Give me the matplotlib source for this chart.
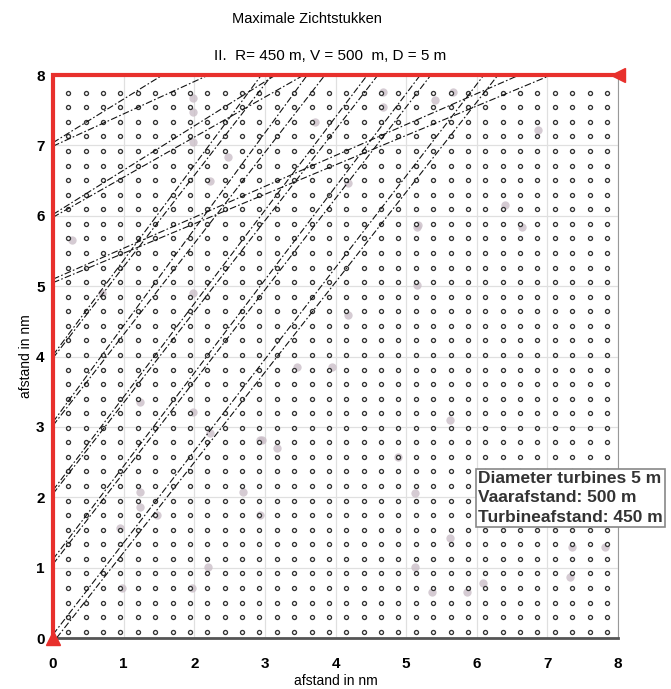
import numpy as np
import matplotlib.pyplot as plt

plt.rcParams['font.family'] = ['Liberation Sans', 'DejaVu Sans']

# turbine lattice (nm): column / row start, spacing and count
col_x0, col_dx, n_cols = 0.217, 0.246, 32
row_y0, row_dy, n_rows = 0.09, 0.207, 38

# faint grey spots seen in the scan
spot_x = [1.98, 1.98, 1.98, 2.48, 2.22, 0.27, 0.69, 1.23, 1.98, 2.22, 1.98,
          1.23, 1.23, 0.95, 0.98, 1.97, 2.20, 2.69, 2.93, 3.17, 2.93, 1.47,
          4.67, 4.67, 3.71, 5.67, 5.41, 6.87, 6.40, 6.64, 5.16, 4.18, 5.17,
          5.16, 4.18, 3.95, 3.46, 5.62, 4.89, 2.96, 5.13, 5.62, 5.13, 5.37,
          5.86, 6.09, 7.35, 7.82, 7.32]
spot_y = [7.67, 7.47, 7.05, 6.83, 6.50, 5.65, 4.91, 3.35, 3.21, 2.91, 4.91,
          2.07, 1.86, 1.56, 0.71, 0.71, 1.01, 2.07, 2.81, 2.70, 1.75, 1.75,
          7.76, 7.54, 7.33, 7.76, 7.64, 7.22, 6.15, 5.84, 5.84, 6.46, 5.87,
          5.01, 4.59, 3.85, 3.85, 3.10, 2.57, 2.81, 2.06, 1.42, 1.01, 0.65,
          0.65, 0.78, 1.29, 1.29, 0.87]

# sight lines: start and end points (nm)
line_x0 = [0.0, 0.0, 0.0, 0.0, 0.0, 0.0, 0.0, 0.0, 0.0, 0.0, 0.0, 0.0, 0.0, 0.0, 0.0, 0.05]
line_y0 = [7.04, 6.99, 6.02, 5.98, 5.05, 5.10, 4.02, 3.98, 3.07, 3.02, 2.10, 2.05, 1.12, 1.05, 0.05, 0.0]
line_x1 = [1.55, 2.20, 3.15, 3.55, 7.05, 6.60, 2.95, 3.10, 3.60, 3.85, 4.45, 4.60, 5.20, 5.35, 6.10, 6.30]
line_y1 = [8.0] * 16

ticks = [0, 1, 2, 3, 4, 5, 6, 7, 8]

fig = plt.figure(figsize=(6.71, 6.89), dpi=100)
ax = fig.add_axes([0.079, 0.074, 0.842, 0.817])

ax.set_xlim(0, 8)
ax.set_ylim(0, 8)
ax.set_xticks(ticks)
ax.set_yticks(ticks)
ax.grid(True, color='#e0e0e0', lw=0.9)
ax.set_axisbelow(True)

xs = col_x0 + col_dx * np.arange(n_cols)
ys = row_y0 + row_dy * np.arange(n_rows)
gx, gy = np.meshgrid(xs, ys)
ax.plot(spot_x, spot_y, 'o', ms=6, color='#cbbfc8', mec='none', alpha=0.8, zorder=1)
ax.plot(gx.ravel(), gy.ravel(), 'o', ms=2.9, mfc='white', mec='#333333', mew=0.95,
        ls='none', zorder=2)

for x0, y0, x1, y1 in zip(line_x0, line_y0, line_x1, line_y1):
    ax.plot([x0, x1], [y0, y1], color='#111111', lw=0.8, ls=(0, (6, 2, 1.5, 2)), zorder=3)

# red frame on left and top with triangle ends
ax.plot([0, 0, 8], [0, 8, 8], color='#e8302c', lw=3, zorder=5, clip_on=False, solid_joinstyle='miter')
ax.plot([0], [0], '^', color='#e8302c', ms=10, zorder=6, clip_on=False)
ax.plot([8], [8], '<', color='#e8302c', ms=10, zorder=6, clip_on=False)

for side in ['left', 'top']:
    ax.spines[side].set_visible(False)
ax.spines['bottom'].set_color('#555555')
ax.spines['bottom'].set_linewidth(2)
ax.spines['right'].set_color('#999999')
ax.spines['right'].set_linewidth(0.8)

ax.tick_params(axis='both', length=0, labelsize=11)
ax.tick_params(axis='x', pad=14)
ax.tick_params(axis='y', pad=6)
for lab in ax.get_xticklabels() + ax.get_yticklabels():
    lab.set_fontweight('bold')

ax.set_xlabel('afstand in nm', fontsize=10, labelpad=2)
ax.set_ylabel('afstand in nm', fontsize=10, labelpad=2)

fig.text(0.457, 0.972, 'Maximale Zichtstukken', ha='center', va='center', fontsize=10.5)
fig.text(0.492, 0.918, 'II.  R= 450 m, V = 500  m, D = 5 m', ha='center', va='center', fontsize=11)

ax.text(6.02, 2.37, 'Diameter turbines 5 m\nVaarafstand: 500 m\nTurbineafstand: 450 m',
        fontsize=12.5, fontweight='bold', color='#333333', va='top', ha='left',
        linespacing=1.35, zorder=7, clip_on=False,
        bbox=dict(boxstyle='square,pad=0.12', fc='white', ec='#888888', lw=1.2))

fig.savefig('out.png', dpi=100)
